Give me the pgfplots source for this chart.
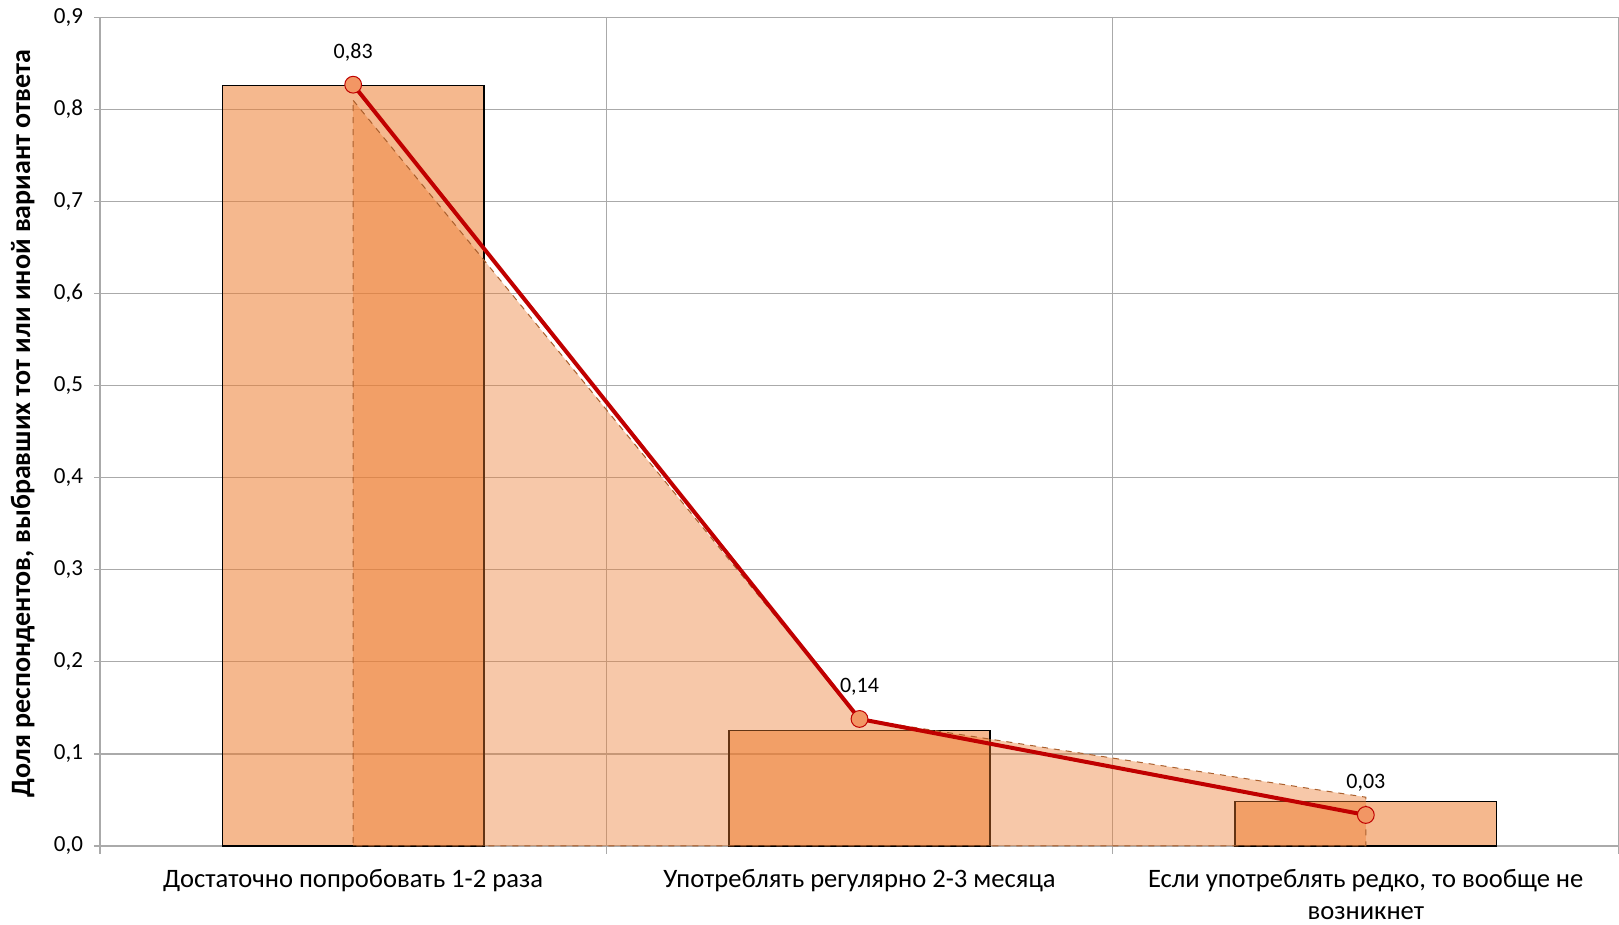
\documentclass[border=0pt]{standalone}
\usepackage{fontspec}
\setmainfont{Carlito}
\usepackage{pgfplots}
\pgfplotsset{compat=1.18}
\definecolor{exorange}{RGB}{237,125,49}
\definecolor{exred}{RGB}{192,0,0}
\definecolor{mkfill}{RGB}{242,150,100}
\definecolor{gridgray}{RGB}{170,170,170}
\definecolor{areaedge}{RGB}{170,95,45}
\begin{document}
\begin{tikzpicture}
\path[use as bounding box] (-50pt,-39.5pt) rectangle (759.5pt,423pt);
\begin{axis}[
  at={(0,0)}, anchor=south west,
  scale only axis, width=759.5pt, height=414.25pt,
  xmin=-0.5, xmax=2.5, ymin=0, ymax=0.9,
  clip=false,
  axis x line*=bottom, axis y line*=left,
  axis line style={gridgray, line width=0.6pt},
  ytick={0,0.1,...,0.9},
  ymajorgrids, grid style={gridgray, line width=0.6pt},
  yticklabel style={font=\fontsize{11.5}{12}\selectfont, xshift=-2pt, /pgf/number format/fixed, /pgf/number format/fixed zerofill, /pgf/number format/precision=1, /pgf/number format/use comma, /pgf/number format/assume math mode=true},
  ytick style={gridgray, line width=0.6pt},
  tick align=outside, major tick length=3pt,
  xtick={0,1,2},
  xticklabels={{Достаточно попробовать 1-2 раза},{Употреблять регулярно 2-3 месяца},{Если употреблять редко, то вообще не\\возникнет}},
  xticklabel style={font=\fontsize{13.3}{16}\selectfont, align=center, yshift=-5pt},
  xtick style={draw=none},
  extra x ticks={-0.5,0.5,1.5,2.5},
  extra x tick labels={},
  extra x tick style={grid=major, xtick style={draw=gridgray, line width=0.6pt}, major tick length=4pt},
  ylabel={Доля респондентов, выбравших тот или иной вариант ответа},
  ylabel style={font=\fontsize{14}{15}\selectfont\bfseries, at={(axis description cs:-0.0508,0.51)}, anchor=center},
]
\addplot[ybar, bar width=0.516, bar shift=0pt, fill=exorange, fill opacity=0.55, draw=black, draw opacity=1, line width=0.75pt]
  coordinates {(0,0.826) (1,0.1255) (2,0.0483)};
\addplot[fill=exorange, fill opacity=0.42, draw=areaedge, dashed, line width=0.5pt]
  coordinates {(0,0.81) (1,0.138) (2,0.053)} \closedcycle;
\addplot[exred, line width=2pt, mark=*, mark size=4.2pt,
  mark options={fill=mkfill, draw=exred, line width=0.5pt, solid},
  point meta=explicit symbolic, nodes near coords,
  every node near coord/.style={anchor=center, yshift=16pt, font=\fontsize{11}{12}\selectfont, text=black}]
  coordinates {(0,0.827)[0,83] (1,0.138)[0,14] (2,0.0337)[0,03]};
\end{axis}
\end{tikzpicture}
\end{document}
